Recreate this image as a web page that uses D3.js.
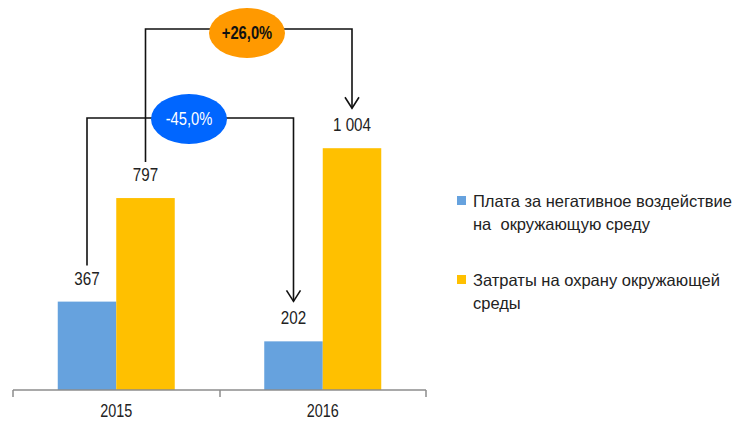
<!DOCTYPE html>
<html>
<head>
<meta charset="utf-8">
<script src="https://cdn.jsdelivr.net/npm/d3@7"></script>
<style>
  body { margin: 0; background: #fff; }
  svg text { font-family: "Liberation Sans", Arial, sans-serif; }
</style>
</head>
<body>
<svg id="chart" width="738" height="421"></svg>
<script>
// data
const years = ["2015", "2016"];
const seriesNames = ["Плата за негативное воздействие на  окружающую среду", "Затраты на охрану окружающей среды"];
const payment = [367, 202];
const costs = [797, 1004];
const labels = [["367", "202"], ["797", "1 004"]];
const changes = [{ text: "-45,0%", series: 0 }, { text: "+26,0%", series: 1 }];

const colors = ["#66a2de", "#ffc000"];
const bubbleColors = ["#0066ff", "#ff9900"];

const svg = d3.select('#chart');
const values = [payment, costs];

// narrow look (no Arial Narrow here) -> squeeze text horizontally
function narrow(sel, x, y, k) {
  return sel.attr('transform', `translate(${x},${y}) scale(${k || 0.8},1)`);
}

const baseY = 390;
const x0 = d3.scaleBand().domain(years).range([13, 426]);
const x1 = d3.scaleBand().domain([0, 1]).range([0, x0.bandwidth()]).paddingOuter(0.765);
const y = d3.scaleLinear().domain([0, 1200]).range([baseY, 101]);

// bars
values.forEach((vals, s) => {
  svg.selectAll('.bar' + s)
    .data(vals)
    .enter()
    .append('rect')
    .attr('x', (d, i) => x0(years[i]) + x1(s))
    .attr('y', d => y(d))
    .attr('width', x1.bandwidth())
    .attr('height', d => baseY - y(d))
    .attr('fill', colors[s]);

  vals.forEach((d, i) => {
    const t = svg.append('text')
      .attr('text-anchor', 'middle')
      .attr('font-size', 19)
      .attr('fill', '#222')
      .text(labels[s][i]);
    narrow(t, x0(years[i]) + x1(s) + x1.bandwidth() / 2, y(d) - 17);
  });
});

// x axis
const axis = svg.append('g');
axis.append('line')
  .attr('x1', 13).attr('x2', 426).attr('y1', baseY).attr('y2', baseY)
  .attr('stroke', '#8c8c8c').attr('stroke-width', 1.5);
[13, 220, 426].forEach(t => {
  axis.append('line')
    .attr('x1', t).attr('x2', t).attr('y1', baseY).attr('y2', baseY + 7)
    .attr('stroke', '#8c8c8c').attr('stroke-width', 1.5);
});
years.forEach(yr => {
  const t = axis.append('text')
    .attr('text-anchor', 'middle')
    .attr('font-size', 18)
    .attr('fill', '#222')
    .text(yr);
  narrow(t, x0(yr) + x0.bandwidth() / 2, 417);
});

// change brackets
const levels = [118, 29];
const centres = [189, 247];
changes.forEach((c, k) => {
  const s = c.series;
  const xa = x0(years[0]) + x1(s) + x1.bandwidth() / 2;
  const xb = x0(years[1]) + x1(s) + x1.bandwidth() / 2;
  const ya = y(values[s][0]) - 36;
  const yb = y(values[s][1]) - 40;
  const ly = levels[k];
  svg.append('path')
    .attr('d', `M${xa},${ya}V${ly}H${xb}V${yb}`)
    .attr('fill', 'none').attr('stroke', '#111').attr('stroke-width', 1.6);
  svg.append('path')
    .attr('d', `M${xb - 7},${yb - 11}L${xb},${yb}L${xb + 7},${yb - 11}`)
    .attr('fill', 'none').attr('stroke', '#111').attr('stroke-width', 1.6);
  svg.append('ellipse')
    .attr('cx', centres[k]).attr('cy', ly + (k === 0 ? 1 : 4))
    .attr('rx', 38).attr('ry', 25)
    .attr('fill', bubbleColors[k]);
  const t = svg.append('text')
    .attr('text-anchor', 'middle')
    .attr('font-size', 18)
    .attr('font-weight', k === 1 ? 'bold' : 'normal')
    .attr('fill', k === 0 ? '#fff' : '#111')
    .text(c.text);
  narrow(t, centres[k], ly + (k === 0 ? 7 : 10), 0.82);
});

// legend
const legendLines = [["Плата за негативное воздействие", "на  окружающую среду"], ["Затраты на охрану окружающей", "среды"]];
const legendTop = [201, 280];
legendLines.forEach((lines, s) => {
  svg.append('rect')
    .attr('x', 457).attr('y', legendTop[s] - 5)
    .attr('width', 9).attr('height', 9)
    .attr('fill', colors[s]);
  lines.forEach((ln, j) => {
    svg.append('text')
      .attr('x', 473).attr('y', legendTop[s] + 6 + j * 23)
      .attr('font-size', 16.5)
      .attr('fill', '#222')
      .attr('xml:space', 'preserve')
      .text(ln);
  });
});
</script>
</body>
</html>
